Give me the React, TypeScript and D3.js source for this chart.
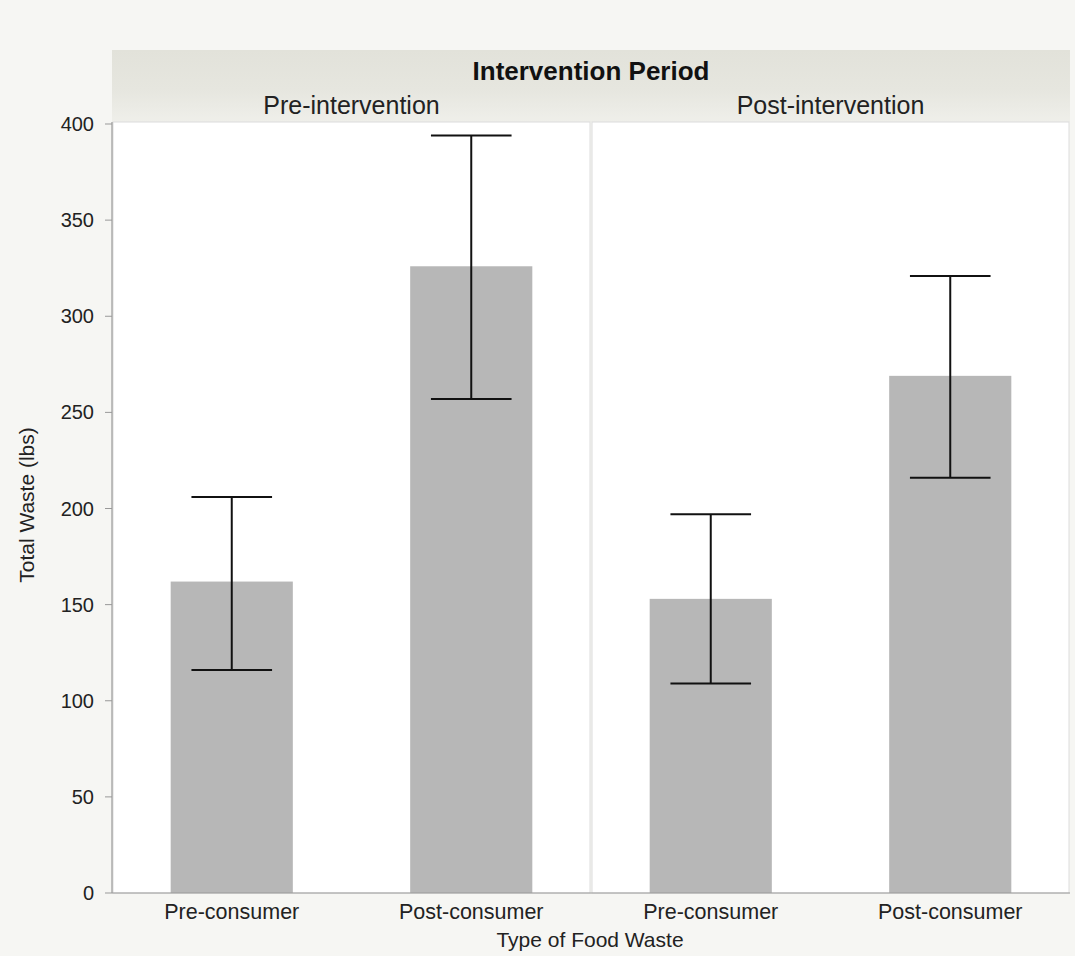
import React from "react";
import { scaleBand, scaleLinear } from "d3";

const periods = ["Pre-intervention", "Post-intervention"];
const wasteTypes = ["Pre-consumer", "Post-consumer"];
const meanPre = [162, 326];
const meanPost = [153, 269];
const upperPre = [206, 394];
const upperPost = [197, 321];
const lowerPre = [116, 257];
const lowerPost = [109, 216];
const yTicks = [0, 50, 100, 150, 200, 250, 300, 350, 400];

const W = 1075;
const H = 956;
const left = 112;
const right = 1070;
const top = 122;
const bottom = 893;
const stripTop = 50;
const font = "'Liberation Sans', Arial, Helvetica, sans-serif";

const means = [meanPre, meanPost];
const uppers = [upperPre, upperPost];
const lowers = [lowerPre, lowerPost];

export default function App() {
  const y = scaleLinear().domain([0, 400]).range([bottom, top + 2]);
  const panel = scaleBand().domain(periods).range([left, right]).padding(0);
  const inner = scaleBand()
    .domain(wasteTypes)
    .range([0, panel.bandwidth()])
    .paddingInner(0.49)
    .paddingOuter(0.245);
  const bw = inner.bandwidth();
  const capW = bw * 0.66;

  return (
    <div style={{ position: "absolute", left: 0, top: 0 }}>
      <svg width={W} height={H} style={{ display: "block", fontFamily: font }}>
        <defs>
          <linearGradient id="strip" x1="0" y1="0" x2="0" y2="1">
            <stop offset="0" stopColor="#e2e2da" />
            <stop offset="0.55" stopColor="#e6e6df" />
            <stop offset="1" stopColor="#efefea" />
          </linearGradient>
        </defs>
        <rect width={W} height={H} fill="#f6f6f3" />

        {/* header strip */}
        <rect x={left} y={stripTop} width={right - left} height={top - stripTop} fill="url(#strip)" />
        <text x={(left + right) / 2} y={80} textAnchor="middle" fontSize={26} fontWeight="bold" fill="#111">
          Intervention Period
        </text>

        {periods.map((p, pi) => {
          const px = panel(p)!;
          return (
            <g key={p}>
              <text x={px + panel.bandwidth() / 2} y={114} textAnchor="middle" fontSize={25} fill="#222">
                {p}
              </text>
              <rect
                x={px + 1}
                y={top}
                width={panel.bandwidth() - 2}
                height={bottom - top}
                fill="#ffffff"
                stroke="#dcdcdc"
                strokeWidth={1}
              />
              {wasteTypes.map((t, ti) => {
                const bx = px + inner(t)!;
                const cx = bx + bw / 2;
                return (
                  <g key={t}>
                    <rect
                      x={bx}
                      y={y(means[pi][ti])}
                      width={bw}
                      height={bottom - y(means[pi][ti])}
                      fill="#b7b7b7"
                    />
                    <line x1={cx} x2={cx} y1={y(uppers[pi][ti])} y2={y(lowers[pi][ti])} stroke="#111" strokeWidth={2} />
                    <line x1={cx - capW / 2} x2={cx + capW / 2} y1={y(uppers[pi][ti])} y2={y(uppers[pi][ti])} stroke="#111" strokeWidth={2} />
                    <line x1={cx - capW / 2} x2={cx + capW / 2} y1={y(lowers[pi][ti])} y2={y(lowers[pi][ti])} stroke="#111" strokeWidth={2} />
                    <text x={cx} y={919} textAnchor="middle" fontSize={21.5} fill="#222">
                      {t}
                    </text>
                  </g>
                );
              })}
            </g>
          );
        })}

        {/* axes */}
        <line x1={left} x2={left} y1={top} y2={bottom} stroke="#999" strokeWidth={1.2} />
        <line x1={left} x2={right} y1={bottom} y2={bottom} stroke="#999" strokeWidth={1.2} />
        {yTicks.map((v) => (
          <g key={v}>
            <line x1={left - 7} x2={left} y1={y(v)} y2={y(v)} stroke="#999" strokeWidth={1} />
            <text x={left - 18} y={y(v)} dy="0.35em" textAnchor="end" fontSize={20} fill="#222">
              {v}
            </text>
          </g>
        ))}

        <text
          transform={`translate(27,${505}) rotate(-90)`}
          textAnchor="middle"
          dy="0.35em"
          fontSize={21}
          fill="#222"
        >
          Total Waste (lbs)
        </text>
        <text x={590} y={947} textAnchor="middle" fontSize={21} fill="#222">
          Type of Food Waste
        </text>
      </svg>
    </div>
  );
}
